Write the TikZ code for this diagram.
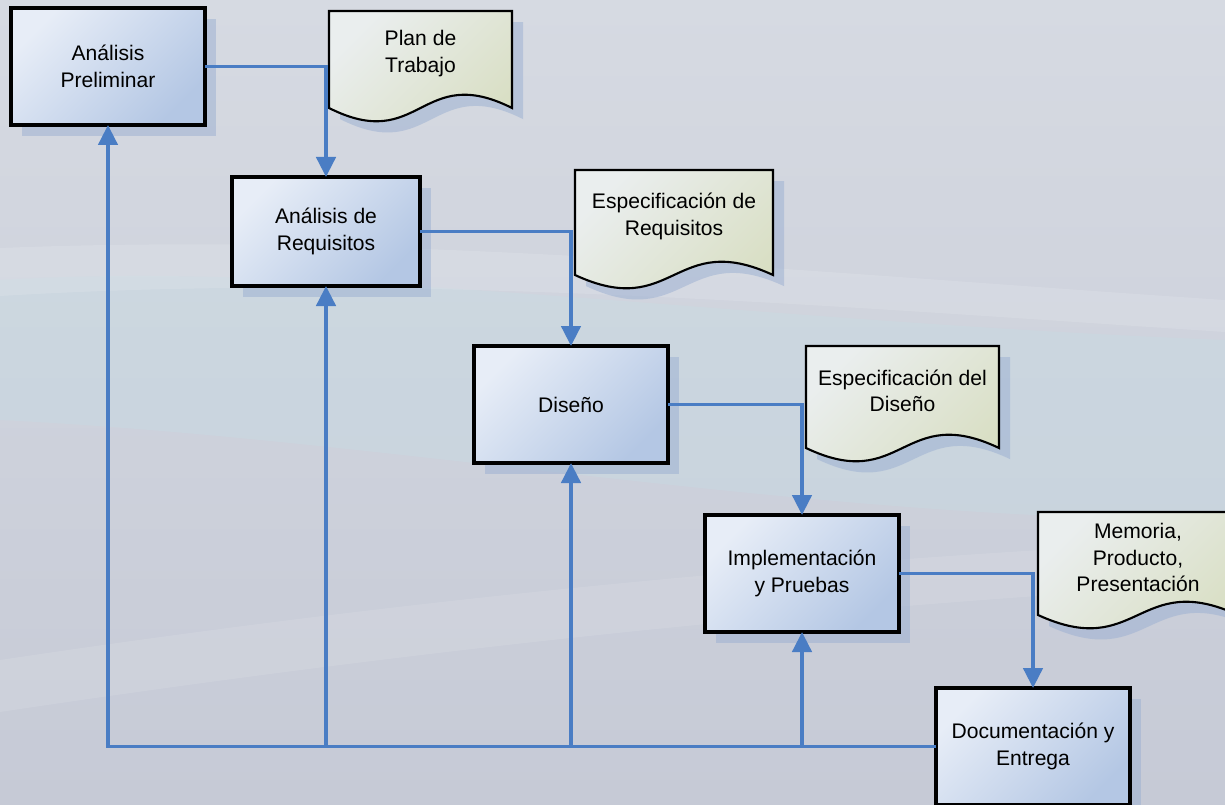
\documentclass[tikz,border=0pt]{standalone}
\usepackage{fontspec}
\setmainfont{Liberation Sans}
\usetikzlibrary{positioning, arrows.meta, shadows, backgrounds}

\definecolor{flowblue}{HTML}{4A7DC4}
\definecolor{boxlight}{HTML}{E7EDF7}
\definecolor{boxdark}{HTML}{B4C7E4}
\definecolor{doclight}{HTML}{EAEEEE}
\definecolor{docdark}{HTML}{D8DEC2}
\definecolor{shadowblue}{HTML}{9AAFD2}
\definecolor{bgtop}{HTML}{D6DAE2}
\definecolor{bgmid}{HTML}{CFDCE2}
\definecolor{bgbot}{HTML}{C6CAD6}
\definecolor{bandcyan}{HTML}{C4DFE6}

\tikzset{docpath/.style={insert path={(#1.north west) -- (#1.north east) -- ([yshift=-0.3cm]#1.south east)
    .. controls ([yshift=0.85cm]#1.south) and ([yshift=-1.45cm]#1.south) .. ([yshift=-0.3cm]#1.south west) -- cycle}}}

\begin{document}
\begin{tikzpicture}[node distance=1.3cm, thick]
    % Define block styles
    \tikzstyle{block} = [rectangle, draw=black, line width=2.6pt, outer sep=0pt, top color=boxlight, bottom color=boxdark, shading angle=45, minimum width=4.85cm, minimum height=2.925cm, align=center, font=\fontsize{15}{18.8}\selectfont, drop shadow={shadow xshift=0.28cm, shadow yshift=-0.28cm, fill=shadowblue, opacity=0.5}]
    \tikzstyle{doc} = [rectangle, draw=none, outer sep=0pt, minimum height=2.25cm, align=center, font=\fontsize{15}{18.8}\selectfont]
    \tikzstyle{docfill} = [draw=black, line width=1.5pt, top color=doclight, bottom color=docdark, shading angle=45]
    \tikzstyle{flow} = [draw=flowblue, line width=2.8pt, -{Triangle[length=0.5cm, width=0.48cm]}]

    \useasboundingbox (0,0) rectangle (30.625,-20.125);

    % Place nodes
    \node [block] (ap) at (2.7,-1.6625) {Análisis\\Preliminar};
    \node [block, below right=1.3cm and 0.675cm of ap, minimum width=4.7cm, minimum height=2.725cm] (ar) {Análisis de\\Requisitos};
    \node [block, below right=1.5cm and 1.35cm of ar] (di) {Diseño};
    \node [block, below right=1.3cm and 0.925cm of di] (ip) {Implementación\\y Pruebas};
    \node [block, below right=1.4cm and 0.925cm of ip] (de) {Documentación y\\Entrega};

    % Documents produced by each phase
    \node [doc, right=3.1cm of ap.north east, anchor=north west, yshift=-0.075cm, minimum width=4.575cm, minimum height=2.125cm] (pt) {Plan de\\Trabajo};
    \node [doc, right=3.875cm of ar.north east, anchor=north west, yshift=0.175cm, minimum width=4.95cm, minimum height=2.325cm] (er) {Especificación de\\Requisitos};
    \node [doc, right=3.45cm of di.north east, anchor=north west, minimum width=4.825cm] (ed) {Especificación del\\Diseño};
    \node [doc, right=3.475cm of ip.north east, anchor=north west, yshift=0.075cm, minimum width=5cm, minimum height=2.275cm] (mp) {Memoria,\\Producto,\\Presentación};

    % Background and document shapes
    \begin{scope}[on background layer]
        \shade [top color=bgtop, middle color=bgmid, bottom color=bgbot] (0,0) rectangle (30.625,-20.125);
        \fill [bandcyan, opacity=0.3] (0,-7) .. controls (8,-6.5) and (18,-8) .. (30.625,-8.5) -- (30.625,-13) .. controls (20,-13) and (10,-11) .. (0,-10.5) -- cycle;
        \fill [white, opacity=0.12] (0,-6.2) .. controls (10,-5.8) and (20,-6.8) .. (30.625,-7.5) -- (30.625,-8.3) .. controls (20,-7.6) and (10,-6.8) .. (0,-7.4) -- cycle;
        \fill [white, opacity=0.1] (0,-16.5) .. controls (10,-15) and (20,-14) .. (30.625,-13.5) -- (30.625,-14.6) .. controls (20,-15.2) and (10,-16.3) .. (0,-17.8) -- cycle;
        \foreach \d in {pt,er,ed,mp} {
            \fill [shadowblue, opacity=0.5, transform canvas={shift={(0.28cm,-0.28cm)}}, docpath=\d];
            \path [docfill, docpath=\d];
        }
    \end{scope}

    % Draw connections as arrows
    \draw [flow] (ap.east) -| (ar.north);
    \draw [flow] (ar.east) -| (di.north);
    \draw [flow] (di.east) -| (ip.north);
    \draw [flow] (ip.east) -| (de.north);

    % Feedback from the last phase
    \draw [flow] (de.west) -| (ap.south);
    \draw [flow] (ar.south |- de.west) -- (ar.south);
    \draw [flow] (di.south |- de.west) -- (di.south);
    \draw [flow] (ip.south |- de.west) -- (ip.south);
\end{tikzpicture}
\end{document}
